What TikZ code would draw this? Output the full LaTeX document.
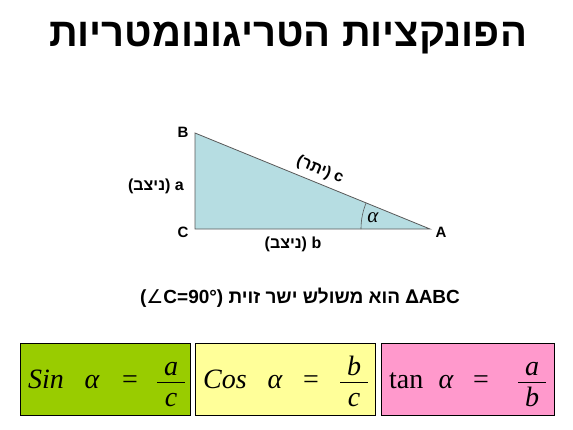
\documentclass[tikz,border=0pt]{standalone}
\usepackage{fontspec}
\setmainfont{Liberation Sans}
\newfontfamily\heb[Script=Hebrew]{Liberation Sans}
\newfontfamily\tnr{Liberation Serif}
\newfontfamily\symf{DejaVu Sans}
\TeXXeTstate=1
\definecolor{trifill}{RGB}{182,221,226}
\definecolor{sinfill}{RGB}{153,204,0}
\definecolor{cosfill}{RGB}{255,255,153}
\definecolor{tanfill}{RGB}{255,153,204}
\tikzset{
  lbl/.style={font=\bfseries\fontsize{15}{15}\selectfont, inner sep=0pt},
  side/.style={font=\bfseries\fontsize{16}{16}\selectfont, inner sep=0pt},
  frm/.style={font=\tnr\fontsize{28}{28}\selectfont, inner sep=0pt},
  frmi/.style={font=\tnr\itshape\fontsize{28}{28}\selectfont, inner sep=0pt},
  fbox/.style={draw, line width=1pt, minimum height=72pt, anchor=north west, inner sep=0pt}
}
\begin{document}
\begin{tikzpicture}[x=1pt,y=-1pt]
\useasboundingbox (0,0) rectangle (573,429);
% title
\node (title) at (288,38) {\heb\bfseries\fontsize{40}{40}\selectfont\beginR הפונקציות הטריגונומטריות\endR};
% triangle
\coordinate (B) at (195,133);
\coordinate (C) at (195,229);
\coordinate (A) at (430,229);
\filldraw[fill=trifill, draw=black!65, line width=0.8pt] (B) -- (C) -- (A) -- cycle;
\scope % angle alpha
\clip (B) -- (C) -- (A) -- cycle;
\draw[black!65, line width=0.6pt] (A) circle (69);
\endscope
\node[lbl] (lB) at (183,132) {B};
\node[lbl] (lC) at (183,232) {C};
\node[lbl] (lA) at (441,232) {A};
\node[side] (la) at (156,186) {({\heb\beginR ניצב\endR}) a};
\node[side] (lb) at (293,244) {({\heb\beginR ניצב\endR}) b};
\node[side, rotate=-22.2] (lc) at (320,170) {({\heb\beginR יתר\endR}) c};
\node[inner sep=0pt, font=\tnr\itshape\fontsize{21}{21}\selectfont] (alpha) at (373,218) {α};
% statement
\node[lbl, font=\bfseries\fontsize{19}{19}\selectfont] (stmt) at (300,298)
  {({\symf\mdseries ∠}C=90°) {\heb\beginR הוא משולש ישר זוית\endR} {\symf ∆}ABC};
% formula boxes
\foreach \i/\x/\w/\col/\fn/\ax/\ex/\bx/\nm/\dn in {
  1/20/170/sinfill/{\itshape Sin}/72/110/151/a/c,
  2/195/180/cosfill/{\itshape Cos}/80/116/159/b/c,
  3/381/173/tanfill/{tan}/65/100/151/a/b}{
  \node[fbox, fill=\col, minimum width=\w pt] (box\i) at (\x,343) {};
  \node[frm, anchor=base west] (fn\i) at (\x+8,388) {\fn};
  \node[frmi, anchor=base] (al\i) at (\x+\ax,388) {α};
  \node[frm, anchor=base] (eq\i) at (\x+\ex,388) {=};
  \node[frmi, anchor=base] (num\i) at (\x+\bx,375) {\nm};
  \node[frmi, anchor=base] (den\i) at (\x+\bx,406) {\dn};
  \draw[line width=0.8pt] (\x+\bx-14,382) -- (\x+\bx+14,382);
}
\end{tikzpicture}
\end{document}
